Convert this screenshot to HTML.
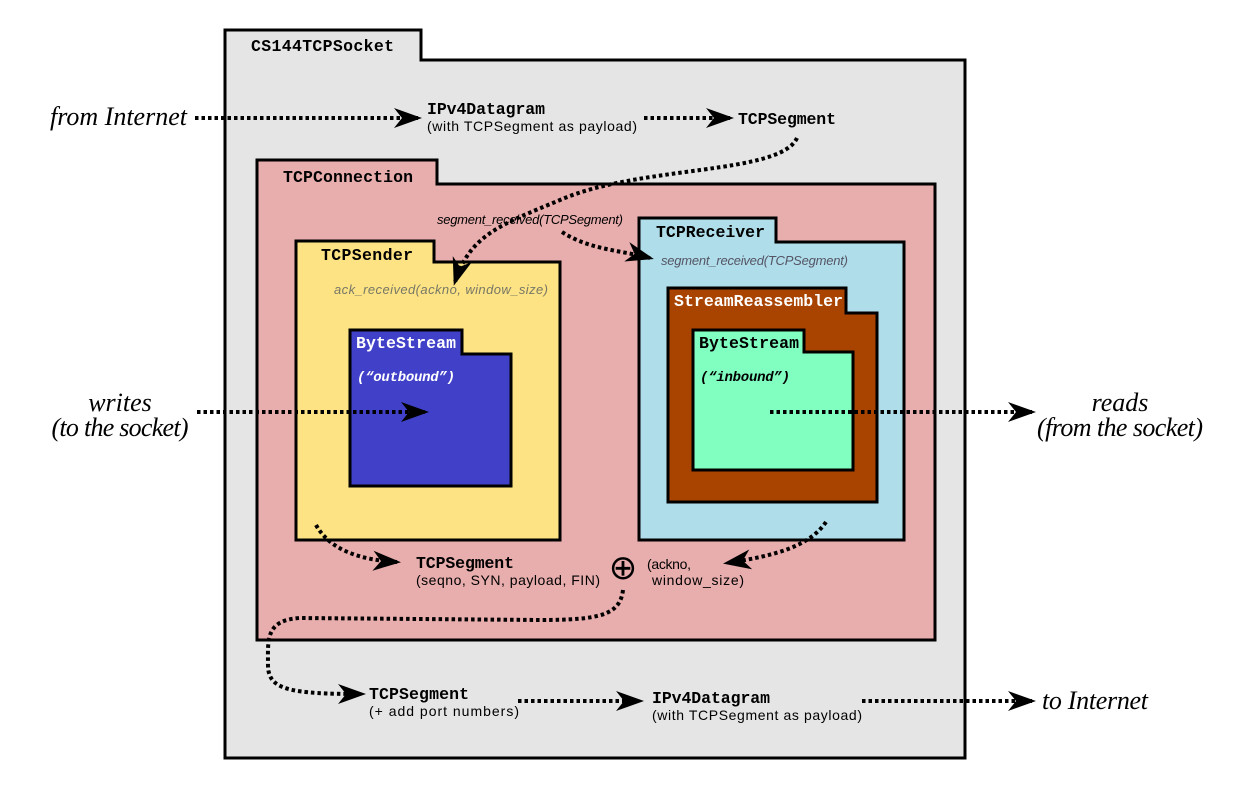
<!DOCTYPE html>
<html><head><style>
html,body{margin:0;padding:0;background:#fff;}
svg{display:block;}
.m{font-family:"Liberation Mono","DejaVu Sans Mono",monospace;font-weight:bold;}
.s{font-family:"Liberation Sans Narrow","Liberation Sans",sans-serif;}
.i{font-family:"Liberation Serif",serif;font-style:italic;font-size:26px;}
.d{fill:none;stroke:#000;stroke-width:4;stroke-dasharray:3.5,3;}
</style></head><body>
<svg width="1242" height="786" viewBox="0 0 1242 786" xmlns="http://www.w3.org/2000/svg">
<defs>
<marker id="a" markerWidth="32" markerHeight="22" refX="24" refY="10" orient="auto" markerUnits="userSpaceOnUse" viewBox="0 0 32 22">
<path d="M28,10 L0,0 L8,10 L0,20 Z" fill="#000"/>
</marker>
</defs>
<g stroke="#000" stroke-width="3">
<polygon points="225,30 421,30 421,60 965,60 965,758 225,758" fill="#e5e5e5"/>
<polygon points="257,160 437,160 437,184 935,184 935,640 257,640" fill="#e8adad"/>
<polygon points="296,241 434,241 434,262 560,262 560,540 296,540" fill="#fde383"/>
<polygon points="350,330 462,330 462,354 511,354 511,486 350,486" fill="#4040c8"/>
<polygon points="639,218 776,218 776,242 904,242 904,540 639,540" fill="#afdde9"/>
<polygon points="668,288 846,288 846,313 877,313 877,502 668,502" fill="#a84300"/>
<polygon points="693,330 804,330 804,352 853,352 853,470 693,470" fill="#80ffc0"/>
</g>
<g class="m" font-size="16.5">
<text x="251" y="51" textLength="143">CS144TCPSocket</text>
<text x="283" y="182" textLength="130">TCPConnection</text>
<text x="321" y="260" textLength="92">TCPSender</text>
<text x="356" y="348" fill="#fff" textLength="100">ByteStream</text>
<text x="656" y="237" textLength="109">TCPReceiver</text>
<text x="674" y="306" fill="#fff" textLength="169">StreamReassembler</text>
<text x="699" y="348" textLength="100">ByteStream</text>
<text x="427" y="114" textLength="118">IPv4Datagram</text>
<text x="738" y="124" textLength="98">TCPSegment</text>
<text x="416" y="568" textLength="98">TCPSegment</text>
<text x="369" y="699" textLength="100">TCPSegment</text>
<text x="652" y="703" textLength="118">IPv4Datagram</text>
</g>
<g class="s" font-size="14">
<text x="427" y="131" textLength="210">(with TCPSegment as payload)</text>
<text x="416" y="585" textLength="184">(seqno, SYN, payload, FIN)</text>
<text x="647" y="569" textLength="44">(ackno,</text>
<text x="652" y="585" textLength="92">window_size)</text>
<text x="369" y="716" textLength="150">(+ add port numbers)</text>
<text x="652" y="720" textLength="210">(with TCPSegment as payload)</text>
</g>
<g class="s" font-size="13" font-style="italic">
<text x="437" y="224" textLength="186">segment_received(TCPSegment)</text>
<text x="661" y="265" fill="#556" textLength="187">segment_received(TCPSegment)</text>
<text x="334" y="294" fill="#776" textLength="214">ack_received(ackno, window_size)</text>
</g>
<g class="m" font-size="14" font-style="italic">
<text x="357" y="381" fill="#fff" textLength="98">(“outbound”)</text>
<text x="700" y="381" textLength="90">(“inbound”)</text>
</g>
<g class="i">
<text x="50" y="125" textLength="137">from Internet</text>
<text x="120" y="411" text-anchor="middle">writes</text>
<text x="120" y="436" text-anchor="middle" textLength="137">(to the socket)</text>
<text x="1120" y="411" text-anchor="middle">reads</text>
<text x="1120" y="436" text-anchor="middle" textLength="166">(from the socket)</text>
<text x="1042" y="709" textLength="106">to Internet</text>
</g>
<text x="623" y="579" font-family="DejaVu Sans,sans-serif" font-size="34" text-anchor="middle">⊕</text>
<g class="d">
<path d="M195,118 L418,118" marker-end="url(#a)"/>
<path d="M644,118 L730,118" marker-end="url(#a)"/>
<path d="M797,138 C780,175 640,165 560,200 C500,225 470,235 455,282" marker-end="url(#a)"/>
<path d="M562,232 C590,250 620,250 650,258" marker-end="url(#a)"/>
<path d="M197,412 L425,412" marker-end="url(#a)"/>
<path d="M770,412 L1032,412" marker-end="url(#a)"/>
<path d="M316,525 C330,550 360,560 397,562" marker-end="url(#a)"/>
<path d="M826,522 C810,545 780,555 727,563" marker-end="url(#a)"/>
<path d="M623,590 C620,615 600,620 540,620 L300,618 C265,620 268,640 268,665 C268,690 290,694 362,694" marker-end="url(#a)"/>
<path d="M518,701 L640,701" marker-end="url(#a)"/>
<path d="M862,701 L1032,701" marker-end="url(#a)"/>
</g>
</svg>
</body></html>
